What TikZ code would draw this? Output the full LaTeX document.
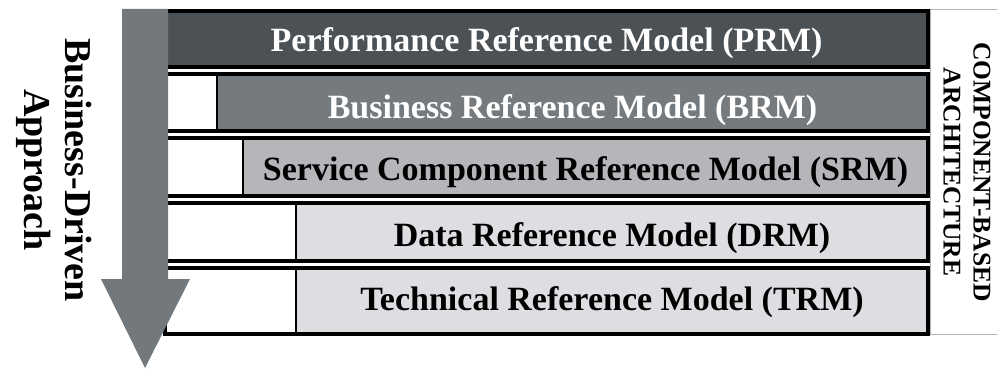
\documentclass[tikz,border=0pt]{standalone}
\usepackage{fontspec}
\setmainfont{Liberation Serif}
\definecolor{prmgray}{HTML}{4C5155}
\definecolor{brmgray}{HTML}{757A7E}
\definecolor{srmgray}{HTML}{B5B6B9}
\definecolor{lightgray}{HTML}{DDDEE1}
\definecolor{arrowgray}{HTML}{73787C}
\tikzset{
    % outer frame of one layer, drawn over the model box
    layer/.style={draw=black, line width=3.5pt},
    model/.style={draw=black, line width=1.2pt, inner sep=0pt, text depth=0pt,
                  font=\fontsize{34}{36}\selectfont\bfseries},
    side/.style={rotate=-90, align=center, inner sep=0pt}
}

\begin{document}
\begin{tikzpicture}[x=1pt,y=-1pt]
  \useasboundingbox (0,0) rectangle (997,369);

  \draw[gray!60, line width=0.8pt] (997,9) -- (930.5,9) -- (930.5,334.5) -- (997,334.5);

  \node[model, fill=prmgray, text=white, minimum width=763pt, minimum height=56pt, text height=23.5pt]
      (prm) at (546.5,39.5) {Performance Reference Model (PRM)};
  \draw[layer] (165,10.8) rectangle (928,67.2);

  \node[model, fill=brmgray, text=white, minimum width=711pt, minimum height=57pt, text height=31.5pt]
      (brm) at (572.5,102.5) {Business Reference Model (BRM)};
  \draw[layer] (165,74) rectangle (928,131);

  \node[model, fill=srmgray, minimum width=685pt, minimum height=58pt, text height=27.5pt]
      (srm) at (585.5,167) {Service Component Reference Model (SRM)};
  \draw[layer] (165,138) rectangle (928,196);

  \node[model, fill=lightgray, minimum width=632pt, minimum height=58pt, text height=28.5pt]
      (drm) at (612,232) {Data Reference Model (DRM)};
  \draw[layer] (165,203) rectangle (928,261);

  \node[model, fill=lightgray, minimum width=632pt, minimum height=66pt, text height=18.5pt]
      (trm) at (612,301) {Technical Reference Model (TRM)};
  \draw[layer] (165,268) rectangle (928,334);

  % the arrow on the left
  \fill[arrowgray] (122,9) -- (168,9) -- (168,279) -- (190,279) -- (145,368)
      -- (101,279) -- (122,279) -- cycle;

  \node[side, font=\fontsize{38}{41}\selectfont\bfseries]
      (approach) at (54,170) {Business-Driven\\Approach};
  \node[side, font=\fontsize{25.5}{30}\selectfont\bfseries]
      (cba) at (967,172) {COMPONENT-BASED\\ARCHITECTURE};

\end{tikzpicture}
\end{document}
